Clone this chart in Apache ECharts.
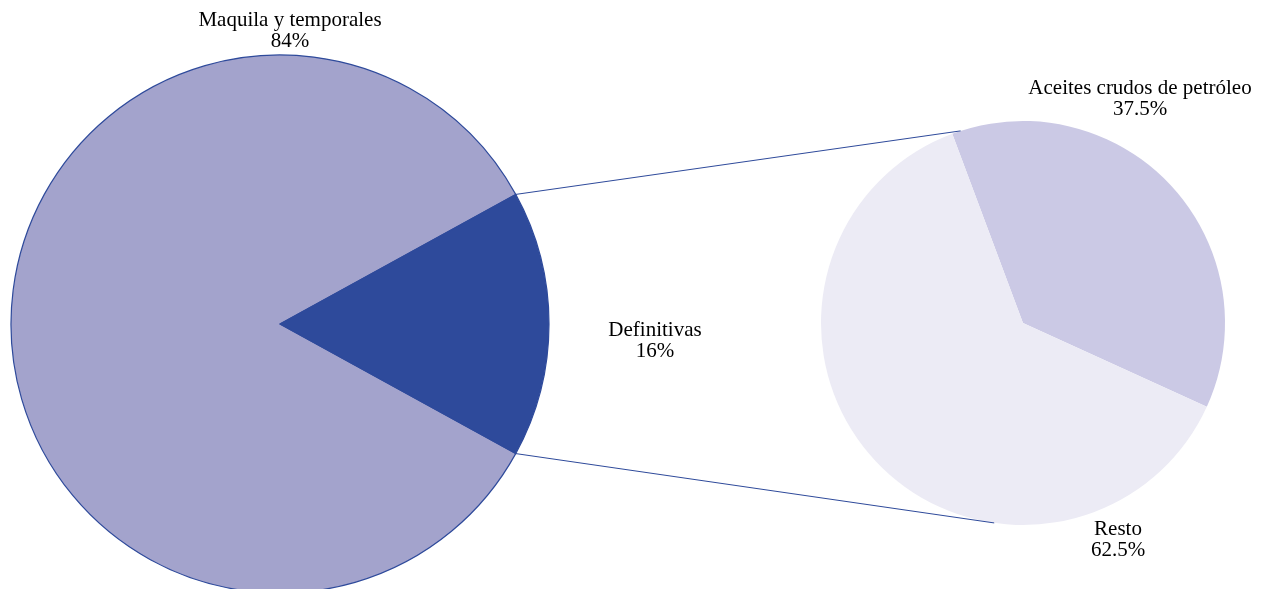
<!DOCTYPE html>
<html>
<head>
<meta charset="utf-8">
<script src="https://cdn.jsdelivr.net/npm/echarts@6/dist/echarts.min.js"></script>
<style>
html,body{margin:0;padding:0;background:#fff;}
#chart{width:1261px;height:589px;}
</style>
</head>
<body>
<div id="chart"></div>
<script>
// Data
const mainCategories = ['Maquila y temporales', 'Definitivas'];
const mainValues = [84, 16];
const subCategories = ['Aceites crudos de petróleo', 'Resto'];
const subValues = [37.5, 62.5];

// Style / layout
const mainColors = ['#A3A3CC', '#2E4A9B'];
const subColors = ['#CBC9E5', '#ECEBF5'];
const lineColor = '#2E4A9B';
const mainCenter = [280, 324], mainRadius = 269;
const subCenter = [1023, 323], subRadius = 202;
const subStartAngle = 110.5;
const connectorAngles = [108, 261.8]; // where connectors meet the secondary pie
const mainLabelPos = [[290, 31], [655, 341]];
const subLabelPos = [[1140, 99], [1118, 540]];
const font = 'Liberation Serif, Times New Roman, serif';

const total = mainValues.reduce((a, b) => a + b, 0);
const halfSpan = mainValues[1] / total * 360 / 2;
const mainStart = 360 - halfSpan; // Maquila starts just below the exploded wedge

function pt(c, r, deg) {
  const a = deg * Math.PI / 180;
  return [c[0] + r * Math.cos(a), c[1] - r * Math.sin(a)];
}
const p1 = pt(mainCenter, mainRadius, halfSpan);
const p2 = pt(mainCenter, mainRadius, -halfSpan);
const q1 = pt(subCenter, subRadius, connectorAngles[0]);
const q2 = pt(subCenter, subRadius, connectorAngles[1]);

const labelStyle = {
  show: true,
  fontFamily: font,
  fontSize: 21,
  lineHeight: 21,
  color: '#000',
  align: 'center',
  formatter: p => p.name + '\n' + p.value + '%'
};

const chart = echarts.init(document.getElementById('chart'), null, {renderer: 'canvas'});
chart.setOption({
  animation: false,
  backgroundColor: '#fff',
  series: [
    {
      type: 'pie',
      center: mainCenter,
      radius: mainRadius,
      startAngle: mainStart,
      clockwise: true,
      avoidLabelOverlap: false,
      data: mainCategories.map((n, i) => ({
        name: n, value: mainValues[i],
        itemStyle: {color: mainColors[i], borderColor: lineColor, borderWidth: 1.2}
      })),
      label: labelStyle,
      labelLine: {show: false},
      labelLayout: p => ({x: mainLabelPos[p.dataIndex][0], y: mainLabelPos[p.dataIndex][1], align: 'center', verticalAlign: 'middle'}),
      emphasis: {disabled: true}
    },
    {
      type: 'pie',
      center: subCenter,
      radius: subRadius,
      startAngle: subStartAngle,
      clockwise: true,
      avoidLabelOverlap: false,
      data: subCategories.map((n, i) => ({
        name: n, value: subValues[i],
        itemStyle: {color: subColors[i], borderWidth: 0}
      })),
      label: labelStyle,
      labelLine: {show: false},
      labelLayout: p => ({x: subLabelPos[p.dataIndex][0], y: subLabelPos[p.dataIndex][1], align: 'center', verticalAlign: 'middle'}),
      emphasis: {disabled: true}
    }
  ],
  graphic: [
    {type: 'line', shape: {x1: p1[0], y1: p1[1], x2: q1[0], y2: q1[1]}, style: {stroke: lineColor, lineWidth: 1}, z: 10},
    {type: 'line', shape: {x1: p2[0], y1: p2[1], x2: q2[0], y2: q2[1]}, style: {stroke: lineColor, lineWidth: 1}, z: 10}
  ]
});
</script>
</body>
</html>
